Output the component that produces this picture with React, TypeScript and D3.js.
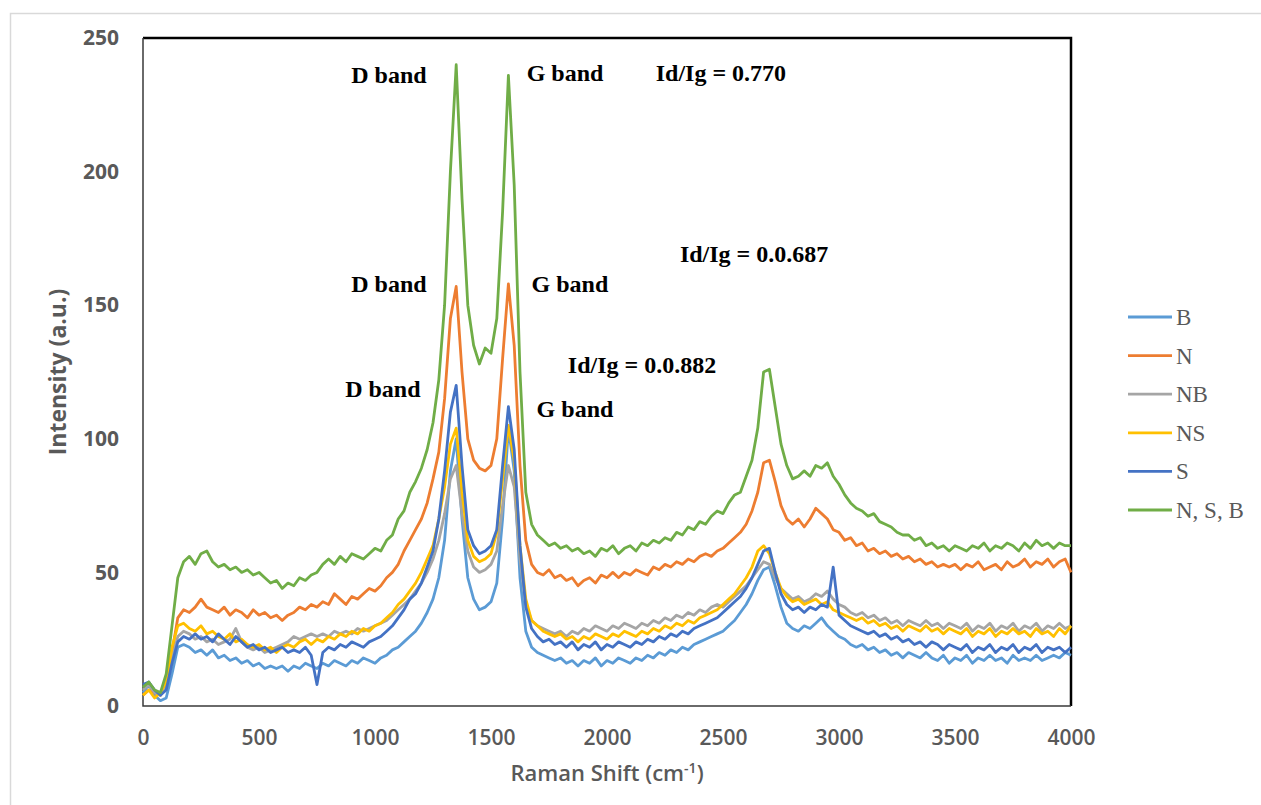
import React, { useEffect, useRef } from 'react';
import * as d3 from 'd3';

// Raman shift grid, cm-1 (one reading every 25 cm-1)
const shifts = d3.range(0, 4001, 25);

// Intensity readings (a.u.), 10 values per row = 250 cm-1 per row
const intensityB = [
  5, 8, 4, 2, 3, 12, 22, 23, 22, 20,
  21, 19, 21, 18, 19, 17, 18, 16, 17, 15,
  16, 14, 15, 14, 15, 13, 15, 14, 16, 15,
  14, 16, 15, 17, 16, 15, 17, 16, 18, 17,
  16, 18, 19, 21, 22, 24, 26, 28, 31, 35,
  40, 48, 62, 88, 100, 70, 48, 40, 36, 37,
  39, 46, 70, 104, 88, 48, 28, 22, 20, 19,
  18, 17, 18, 16, 17, 15, 17, 16, 18, 15,
  17, 16, 18, 17, 16, 18, 17, 19, 18, 20,
  19, 21, 20, 22, 21, 23, 24, 25, 26, 27,
  28, 30, 32, 35, 38, 42, 47, 51, 52, 45,
  37, 31, 29, 28, 30, 29, 31, 33, 30, 28,
  26, 25, 23, 22, 23, 21, 22, 20, 21, 19,
  20, 18, 20, 19, 18, 20, 18, 17, 19, 16,
  18, 17, 19, 16, 18, 17, 19, 17, 18, 16,
  19, 17, 18, 17, 19, 17, 18, 19, 18, 20,
  19
];
const intensityN = [
  4, 6, 5, 4, 8, 20, 33, 36, 35, 37,
  40, 37, 36, 35, 37, 34, 36, 35, 33, 36,
  34, 35, 33, 34, 32, 34, 35, 37, 36, 38,
  37, 39, 38, 42, 40, 38, 41, 40, 42, 44,
  43, 45, 48, 50, 53, 58, 62, 66, 70, 76,
  85, 95, 115, 145, 157, 125, 100, 92, 89, 88,
  90, 100, 130, 158, 135, 90, 62, 53, 50, 49,
  51, 48, 49, 47, 48, 45, 47, 48, 46, 49,
  48, 50, 48, 50, 49, 51, 50, 49, 52, 51,
  53, 52, 54, 53, 55, 54, 56, 57, 56, 58,
  59, 61, 63, 65, 68, 73, 80, 91, 92, 84,
  75, 70, 68, 70, 67, 70, 74, 72, 70, 66,
  65, 62, 63, 60, 61, 58, 59, 57, 58, 56,
  57, 55, 56, 54, 55, 53, 54, 52, 53, 52,
  53, 51, 53, 52, 54, 51, 52, 53, 51, 54,
  52, 53, 55, 52, 54, 53, 55, 52, 54, 55,
  50
];
const intensityNB = [
  6, 8, 5, 4, 7, 18, 26, 28, 27, 25,
  26, 24, 25, 23, 24, 25, 29, 24, 22, 21,
  22, 20, 21, 22, 23, 24, 26, 25, 26, 27,
  26, 27, 26, 28, 27, 28, 27, 29, 28, 29,
  30, 31, 32, 34, 36, 38, 40, 43, 46, 50,
  55, 62, 72, 85, 90, 72, 58, 52, 50, 51,
  53, 58, 75, 90, 82, 55, 38, 32, 30, 29,
  28, 27, 28, 26, 28, 27, 29, 28, 30, 29,
  28, 30, 29, 31, 30, 29, 31, 30, 32, 31,
  33, 32, 34, 33, 35, 34, 36, 35, 37, 38,
  37, 39, 41, 43, 45, 48, 51, 54, 53, 48,
  44, 42, 40, 41, 39, 40, 42, 41, 43, 40,
  38, 37, 35, 34, 35, 33, 34, 32, 33, 31,
  32, 30, 32, 31, 30, 32, 30, 31, 29, 31,
  30, 29, 31, 28, 30, 29, 31, 28, 30, 29,
  31, 28, 30, 29, 31, 28, 30, 29, 31, 29,
  30
];
const intensityNS = [
  4, 6, 3, 5, 9, 22, 30, 31, 29, 28,
  30, 27, 28, 26, 25, 27, 24, 25, 23, 22,
  23, 21, 22, 20, 22, 23, 22, 24, 25, 23,
  25, 24, 26, 25, 27, 26, 28, 27, 29, 28,
  30, 31, 33, 35, 38, 40, 43, 46, 50, 55,
  60, 70, 82, 98, 104, 80, 62, 56, 54, 55,
  57, 65, 85, 105, 92, 60, 40, 32, 30, 28,
  27, 26, 27, 25, 26, 24, 26, 25, 27, 26,
  25, 27, 26, 28, 27, 26, 28, 27, 29, 28,
  30, 29, 31, 30, 32, 31, 33, 34, 35, 36,
  38, 40, 42, 45, 48, 52, 58, 60, 57, 50,
  44, 41, 39, 40, 38, 39, 40, 38, 39, 36,
  35, 34, 33, 32, 33, 31, 32, 30, 31, 29,
  30, 28, 30, 29, 28, 30, 28, 29, 27, 29,
  28, 27, 29, 26, 28, 27, 29, 26, 28, 27,
  29, 27, 28, 26, 29, 27, 28, 26, 29, 27,
  30
];
const intensityS = [
  8, 9, 6, 4, 6, 16, 24, 26, 25, 27,
  25, 26, 24, 27, 25, 23, 26, 24, 22, 23,
  21, 22, 20, 21, 22, 20, 21, 20, 22, 19,
  8, 20, 22, 21, 23, 22, 24, 23, 22, 24,
  25, 26, 28, 30, 33, 36, 40, 42, 46, 52,
  58, 70, 88, 110, 120, 90, 66, 60, 57, 58,
  60, 66, 90, 112, 96, 60, 37, 29, 26, 24,
  25, 23, 24, 22, 24, 21, 23, 22, 24, 21,
  23, 22, 24, 23, 22, 24, 23, 25, 24, 26,
  25, 27, 26, 28, 27, 29, 30, 31, 32, 33,
  35, 37, 39, 41, 44, 48, 53, 58, 59, 50,
  42, 38, 36, 37, 35, 37, 36, 38, 37, 52,
  34, 32, 30, 29, 28, 27, 28, 26, 27, 25,
  26, 24, 25, 23, 24, 22, 24, 23, 21, 23,
  22, 21, 23, 20, 22, 21, 23, 20, 22, 21,
  23, 20, 22, 21, 23, 20, 22, 21, 22, 20,
  22
];
const intensityNSB = [
  7, 9, 6, 5, 12, 30, 48, 54, 56, 53,
  57, 58, 54, 52, 53, 51, 52, 50, 51, 49,
  50, 48, 46, 47, 44, 46, 45, 48, 47, 49,
  50, 53, 55, 53, 56, 54, 57, 56, 55, 57,
  59, 58, 62, 64, 70, 73, 80, 84, 89, 96,
  106, 122, 150, 200, 240, 190, 150, 135, 128, 134,
  132, 145, 185, 236, 195, 125, 80, 68, 64, 62,
  60, 61, 59, 60, 58, 59, 57, 58, 56, 59,
  58, 60, 57, 59, 60, 58, 61, 60, 62, 61,
  63, 62, 65, 64, 67, 66, 69, 68, 71, 73,
  72, 76, 79, 80, 86, 92, 104, 125, 126, 112,
  98, 90, 85, 86, 88, 86, 90, 89, 91, 86,
  83, 79, 76, 74, 73, 71, 72, 69, 68, 67,
  65, 64, 64, 62, 63, 60, 61, 59, 60, 58,
  60, 59, 58, 60, 59, 61, 58, 60, 59, 61,
  60, 58, 61, 59, 62, 60, 61, 59, 61, 60,
  60
];

const seriesNames = ['B', 'N', 'NB', 'NS', 'S', 'N, S, B'];
const seriesValues = [intensityB, intensityN, intensityNB, intensityNS, intensityS, intensityNSB];
const colors = ['#5B9BD5', '#ED7D31', '#A5A5A5', '#FFC000', '#4472C4', '#70AD47'];

const xTicks = [0, 500, 1000, 1500, 2000, 2500, 3000, 3500, 4000];
const yTicks = [0, 50, 100, 150, 200, 250];

// annotation texts and their anchor (shift, intensity)
const noteTexts = ['D band', 'G band', 'Id/Ig = 0.770', 'D band', 'G band', 'Id/Ig = 0.0.687', 'Id/Ig = 0.0.882', 'D band', 'G band'];
const noteShift = [1060, 1819, 2491, 1060, 1840, 2634, 2151, 1034, 1862];
const noteIntensity = [233, 234, 234, 155, 155, 166, 124.6, 115.6, 108];

const W = 1261, H = 805;
const margin = { top: 38, left: 143, right: 190, bottom: 99 };

export default function App() {
  const ref = useRef<SVGSVGElement>(null);

  useEffect(() => {
    const svg = d3.select(ref.current);
    svg.selectAll('*').remove();

    const width = W - margin.left - margin.right;   // 928
    const height = H - margin.top - margin.bottom;  // 668

    const x = d3.scaleLinear().domain([0, 4000]).range([0, width]);
    const y = d3.scaleLinear().domain([0, 250]).range([height, 0]);

    // outer chart frame
    svg.append('rect')
      .attr('x', 10.5).attr('y', 13.5)
      .attr('width', W).attr('height', H)
      .attr('fill', 'none').attr('stroke', '#d9d9d9').attr('stroke-width', 1.5);

    const g = svg.append('g').attr('transform', `translate(${margin.left},${margin.top})`);

    // plot frame: top/right black, left/bottom are the axes
    g.append('path')
      .attr('d', `M0,0H${width}V${height}`)
      .attr('fill', 'none').attr('stroke', '#000').attr('stroke-width', 2.5);
    g.append('path')
      .attr('d', `M0,0V${height}H${width}`)
      .attr('fill', 'none').attr('stroke', '#3a3a3a').attr('stroke-width', 1.5);

    // lines
    const line = d3.line<number>()
      .x((d, i) => x(shifts[i]))
      .y(d => y(d));

    seriesValues.forEach((vals, k) => {
      g.append('path')
        .datum(vals)
        .attr('d', line)
        .attr('fill', 'none')
        .attr('stroke', colors[k])
        .attr('stroke-width', 2.8)
        .attr('stroke-linejoin', 'round');
    });

    // axes
    const yAxis = g.append('g').call(d3.axisLeft(y).tickValues(yTicks).tickSize(0).tickPadding(24));
    yAxis.select('.domain').remove();
    yAxis.selectAll('text')
      .attr('font-family', '"Open Sans", sans-serif')
      .attr('font-size', 21).attr('font-weight', 700).attr('fill', '#595959');

    const xAxis = g.append('g')
      .attr('transform', `translate(0,${height})`)
      .call(d3.axisBottom(x).tickValues(xTicks).tickFormat(d3.format('d')).tickSize(0).tickPadding(24));
    xAxis.select('.domain').remove();
    xAxis.selectAll('text')
      .attr('font-family', '"Open Sans", sans-serif')
      .attr('font-size', 21).attr('font-weight', 600).attr('fill', '#595959');

    // axis titles
    svg.append('text')
      .attr('transform', `translate(66,${margin.top + height / 2}) rotate(-90)`)
      .attr('text-anchor', 'middle')
      .attr('font-family', '"Open Sans", sans-serif')
      .attr('font-size', 23).attr('font-weight', 700).attr('fill', '#595959')
      .text('Intensity (a.u.)');

    const xt = svg.append('text')
      .attr('x', margin.left + width / 2).attr('y', 781)
      .attr('text-anchor', 'middle')
      .attr('font-family', '"Open Sans", sans-serif')
      .attr('font-size', 22).attr('font-weight', 600).attr('fill', '#595959');
    xt.append('tspan').text('Raman Shift (cm');
    xt.append('tspan').attr('dy', -8).attr('font-size', 14).text('-1');
    xt.append('tspan').attr('dy', 8).text(')');

    // annotations
    noteTexts.forEach((t, i) => {
      g.append('text')
        .attr('x', x(noteShift[i])).attr('y', y(noteIntensity[i]))
        .attr('text-anchor', 'middle')
        .attr('font-family', '"Liberation Serif", "Times New Roman", serif')
        .attr('font-size', 24).attr('font-weight', 700).attr('fill', '#000')
        .text(t);
    });

    // legend
    const legend = svg.append('g').attr('transform', 'translate(1128,317)');
    seriesNames.forEach((name, i) => {
      const row = legend.append('g').attr('transform', `translate(0,${i * 38.6})`);
      row.append('line')
        .attr('x1', 0).attr('x2', 44)
        .attr('stroke', colors[i]).attr('stroke-width', 2.8);
      row.append('text')
        .attr('x', 48).attr('y', 8)
        .attr('font-family', '"Liberation Serif", "Times New Roman", serif')
        .attr('font-size', 23).attr('fill', '#595959')
        .text(name);
    });
  }, []);

  return (
    <svg ref={ref} width={W} height={H}
      style={{ position: 'absolute', left: 0, top: 0, background: '#fff' }} />
  );
}
